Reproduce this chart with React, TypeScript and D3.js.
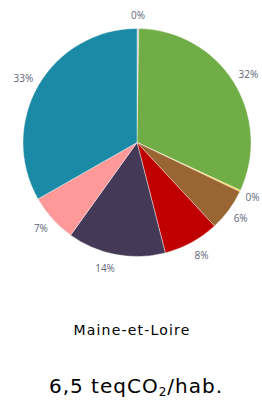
import React from 'react';
import * as d3 from 'd3';

// Parts of the emissions, in percent, clockwise from 12 o'clock
const sectors = ['s1', 's2', 's3', 's4', 's5', 's6', 's7', 's8'];
const shares = [0.25, 31.65, 0.2, 6.0, 7.9, 13.9, 6.85, 33.25];
const colors = ['#b8c4d6', '#70ad47', '#ffc000', '#996633', '#c00000', '#443a57', '#ff9999', '#1a8aa6'];

const title = 'Maine-et-Loire';
const total = '6,5';

const W = 262;
const H = 400;

export default function App() {
  const cx = 137;
  const cy = 142.5;
  const r = 114;

  const pie = d3.pie<number>().sort(null).value(d => d);
  const arcs = pie(shares);
  const arc = d3.arc<d3.PieArcDatum<number>>().innerRadius(0).outerRadius(r);
  const sum = d3.sum(shares);

  return (
    <svg width={W} height={H} style={{ position: 'absolute', left: 0, top: 0, background: '#fff' }}>
      <g transform={`translate(${cx},${cy})`}>
        {arcs.map((a, i) => (
          <path key={sectors[i]} d={arc(a) || ''} fill={colors[i]} stroke="#fff" strokeWidth={0.4} />
        ))}
        {arcs.map((a, i) => {
          const mid = (a.startAngle + a.endAngle) / 2;
          const sx = Math.sin(mid);
          const sy = -Math.cos(mid);
          const x = 120 * sx;
          const y = 128 * sy;
          const anchor = Math.abs(sx) < 0.1 ? 'middle' : sx > 0 ? 'start' : 'end';
          return (
            <text
              key={'l' + sectors[i]}
              x={x}
              y={y}
              textAnchor={anchor}
              dominantBaseline="central"
              fontFamily="'Open Sans', sans-serif"
              fontSize={10}
              fill="#5d6577"
            >
              {Math.round((shares[i] / sum) * 100)}%
            </text>
          );
        })}
      </g>
      <text x={132} y={335} textAnchor="middle" fontFamily="'DejaVu Sans', sans-serif" fontSize={14} letterSpacing={1.2} fill="#000">
        {title}
      </text>
      <text x={136} y={393} textAnchor="middle" fontFamily="'DejaVu Sans', sans-serif" fontSize={20} letterSpacing={1} fill="#000">
        {total} teqCO<tspan fontSize={12} dy={3}>2</tspan><tspan dy={-3}>/hab.</tspan>
      </text>
    </svg>
  );
}
